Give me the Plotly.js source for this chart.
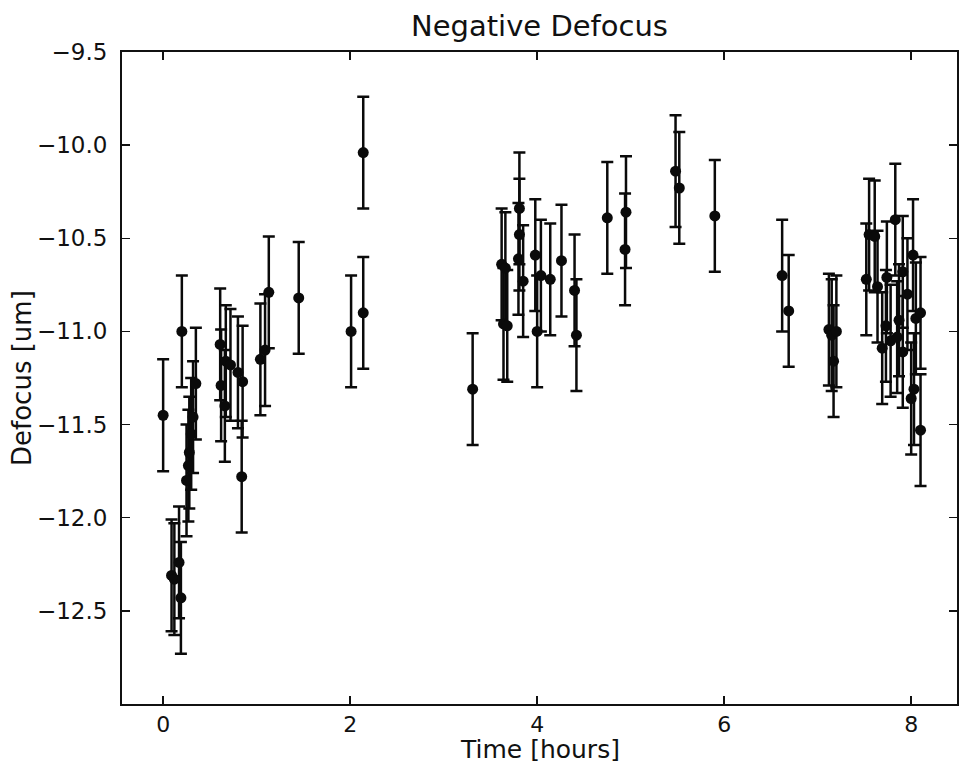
<!DOCTYPE html>
<html>
<head>
<meta charset="utf-8">
<script src="https://cdn.plot.ly/plotly-3.0.1.min.js"></script>
<style>html,body{margin:0;padding:0;background:#fff;}#chart{width:960px;height:768px;}</style>
</head>
<body>
<div id="chart"></div>
<script>
// Time [hours]
const timeHours = [
  0.00, 0.09, 0.12, 0.17, 0.19, 0.20, 0.25, 0.27, 0.28, 0.30, 0.32, 0.35,
  0.61, 0.62, 0.66, 0.67, 0.72, 0.80, 0.84, 0.85, 1.04, 1.09, 1.13, 1.45,
  2.01, 2.14, 2.14,
  3.31, 3.62, 3.64, 3.66, 3.68, 3.80, 3.81, 3.81, 3.85, 3.98, 4.00, 4.04, 4.14, 4.26, 4.40, 4.42,
  4.75, 4.94, 4.95, 5.48, 5.52, 5.90,
  6.62, 6.69, 7.12, 7.15, 7.17, 7.20,
  7.52, 7.55, 7.61, 7.64, 7.69, 7.73, 7.74, 7.78, 7.83, 7.85, 7.87, 7.91, 7.91, 7.96,
  8.00, 8.02, 8.03, 8.05, 8.10, 8.10
];
// Defocus [um]
const defocus = [
  -11.45, -12.31, -12.33, -12.24, -12.43, -11.00, -11.80, -11.72, -11.65, -11.55, -11.46, -11.28,
  -11.07, -11.29, -11.40, -11.16, -11.18, -11.22, -11.78, -11.27, -11.15, -11.10, -10.79, -10.82,
  -11.00, -10.04, -10.90,
  -11.31, -10.64, -10.96, -10.66, -10.97, -10.61, -10.34, -10.48, -10.73, -10.59, -11.00, -10.70, -10.72, -10.62, -10.78, -11.02,
  -10.39, -10.56, -10.36, -10.14, -10.23, -10.38,
  -10.70, -10.89, -10.99, -11.02, -11.16, -11.00,
  -10.72, -10.48, -10.49, -10.76, -11.09, -10.97, -10.71, -11.05, -10.40, -11.03, -10.94, -10.68, -11.11, -10.80,
  -11.36, -10.59, -11.31, -10.93, -10.90, -11.53
];
// Symmetric uncertainty [um]
const errorUm = timeHours.map(() => 0.30);

const xTitle = 'Time [hours]';
const yTitle = 'Defocus [um]';

const trace = {
  x: timeHours,
  y: defocus,
  type: 'scatter',
  mode: 'markers',
  marker: {color: '#0a0a0a', size: 11},
  error_y: {type: 'data', array: errorUm, visible: true, color: '#0a0a0a', thickness: 2.5, width: 6},
  hoverinfo: 'x+y'
};

const fontFam = 'DejaVu Sans, Verdana, sans-serif';
const layout = {
  width: 960, height: 768,
  paper_bgcolor: '#ffffff', plot_bgcolor: '#ffffff',
  margin: {l: 122, r: 3, t: 52, b: 64},
  showlegend: false,
  title: {text: 'Negative Defocus', font: {family: fontFam, size: 29, color: '#111'}, xref: 'paper', x: 0.5, xanchor: 'center', yref: 'container', y: 0.966, yanchor: 'middle'},
  xaxis: {
    range: [-0.44, 8.49],
    tickvals: [0, 2, 4, 6, 8],
    ticks: 'inside', ticklen: 8, tickwidth: 1.5, tickcolor: '#111',
    mirror: 'ticks', showline: true, linecolor: '#111', linewidth: 2,
    showgrid: false, zeroline: false,
    tickfont: {family: fontFam, size: 22, color: '#111'}
  },
  yaxis: {
    range: [-13.0, -9.5],
    tickvals: [-9.5, -10, -10.5, -11, -11.5, -12, -12.5],
    tickformat: '.1f',
    ticks: 'inside', ticklen: 8, tickwidth: 1.5, tickcolor: '#111',
    mirror: 'ticks', showline: true, linecolor: '#111', linewidth: 2,
    showgrid: false, zeroline: false,
    ticklabelstandoff: 8,
    tickfont: {family: fontFam, size: 23, color: '#111'}
  },
  annotations: [
    {text: xTitle, xref: 'paper', yref: 'paper', x: 0.5, y: -0.0705, xanchor: 'center', yanchor: 'middle', showarrow: false,
     font: {family: fontFam, size: 25, color: '#111'}},
    {text: yTitle, xref: 'paper', yref: 'paper', x: -0.1198, y: 0.5, xanchor: 'center', yanchor: 'middle', showarrow: false, textangle: -90,
     font: {family: fontFam, size: 26, color: '#111'}}
  ]
};

Plotly.newPlot('chart', [trace], layout, {displayModeBar: false, staticPlot: true});
</script>
</body>
</html>
